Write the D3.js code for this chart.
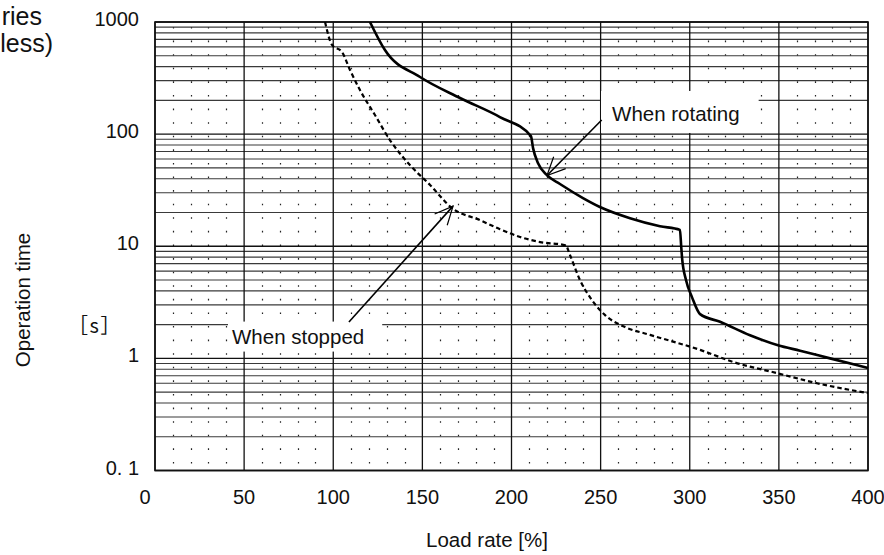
<!DOCTYPE html>
<html><head><meta charset="utf-8">
<script src="https://cdn.jsdelivr.net/npm/d3@7"></script>
<style>
html,body{margin:0;padding:0;background:#fff;}
svg{display:block;font-family:"Liberation Sans",Arial,sans-serif;}
</style></head>
<body><svg id="c" width="884" height="555"></svg>
<script>
// ---- data ----
const xTicks = [0, 50, 100, 150, 200, 250, 300, 350, 400];
const yTicks = [1000, 100, 10, 1, 0.1];
const yTickLabels = ["1000", "100", "10", "1", "0. 1"];
const xLabel = "Load rate [%]";
const yLabel = "Operation time";
const yUnit = "［s］";
const cornerText = ["ries", "less)"];
// When rotating (solid)
const rotX = [120.6, 129, 148.7, 171.1, 193.5, 210.9, 212.1, 214.9, 219.9, 227.2, 240.1, 249.6, 266.5, 283.3, 294.5, 295.2, 295.7, 297.9, 301.3, 305.8, 317, 333.8, 349.5, 361.9, 378.7, 400];
const rotY = [1000, 562, 323, 210, 142, 96, 75, 55, 43, 35.9, 26.9, 22.4, 17.8, 15.1, 14, 10, 7.85, 5, 3.5, 2.48, 2.12, 1.61, 1.31, 1.17, 1.0, 0.82];
// When stopped (dashed)
const stopX = [95.4, 99.3, 104.9, 109.4, 115, 123.4, 131.8, 143, 154.3, 166.6, 182.3, 193.5, 204.8, 216, 230.4, 232.8, 238.4, 245.2, 252.5, 263.7, 277.7, 305.8, 324.3, 349.5, 371.4, 400];
const stopY = [1000, 624, 540, 373, 247, 148, 88.6, 53, 35.2, 21.9, 17.1, 14.2, 12.1, 10.9, 10.2, 8.35, 5, 3.3, 2.43, 1.9, 1.62, 1.19, 0.93, 0.735, 0.6, 0.49];
// annotations: label anchor, arrow tail, arrow tip (data coords)
const annoText = ["When rotating", "When stopped"];
const annoLabel = [[256.4, 131], [43.2, 1.355]];
const annoTail = [[250.6, 133.6], [108.8, 2.11]];
const annoTip = [[219.9, 42.7], [167.2, 22.8]];

// ---- layout ----
const L = 155, R = 868, T = 22, B = 470.5;
const svg = d3.select("#c");
const x = d3.scaleLinear().domain([0, 400]).range([L, R]);
const y = d3.scaleLog().domain([0.1, 1000]).range([B, T]);

const g = svg.append("g");

// dotted vertical minor grid (every 10)
const minorX = d3.range(10, 400, 10).filter(v => v % 50 !== 0);
const period = (B - T) / 33;
g.selectAll("line.vd").data(minorX).join("line")
  .attr("x1", d => Math.round(x(d)) + 0.5).attr("x2", d => Math.round(x(d)) + 0.5)
  .attr("y1", T + 5).attr("y2", B)
  .attr("stroke", "#222").attr("stroke-width", 1.2)
  .attr("stroke-dasharray", `1.6,${period - 1.6}`);

// horizontal minor log grid
const minorY = [];
[0.1, 1, 10, 100].forEach(dec => { for (let k = 2; k <= 9; k++) minorY.push(dec * k); });
g.selectAll("line.hm").data(minorY).join("line")
  .attr("x1", L).attr("x2", R)
  .attr("y1", d => y(d)).attr("y2", d => y(d))
  .attr("stroke", "#3a3a3a").attr("stroke-width", 1.2);

// vertical major grid
g.selectAll("line.vM").data(xTicks).join("line")
  .attr("x1", d => x(d)).attr("x2", d => x(d))
  .attr("y1", T).attr("y2", B)
  .attr("stroke", "#111").attr("stroke-width", 1.3);

// horizontal decade lines
g.selectAll("line.hM").data(yTicks).join("line")
  .attr("x1", L).attr("x2", R)
  .attr("y1", d => y(d)).attr("y2", d => y(d))
  .attr("stroke", "#111").attr("stroke-width", 1.3);

// border
g.append("rect").attr("x", L).attr("y", T).attr("width", R - L).attr("height", B - T)
  .attr("fill", "none").attr("stroke", "#111").attr("stroke-width", 1.6);

// curves
const line = d3.line().x(d => x(d[0])).y(d => y(d[1])).curve(d3.curveMonotoneX);
g.append("path").datum(rotX.map((v, i) => [v, rotY[i]]))
  .attr("d", line).attr("fill", "none").attr("stroke", "#000").attr("stroke-width", 2.6)
  .attr("stroke-linejoin", "round");
g.append("path").datum(stopX.map((v, i) => [v, stopY[i]]))
  .attr("d", line).attr("fill", "none").attr("stroke", "#000").attr("stroke-width", 2.2)
  .attr("stroke-dasharray", "4.5,3");

// annotations
const pads = [[11, 15, 19, 12], [4, 7, 18, 8]];
annoText.forEach((t, i) => {
  const tx = svg.append("text").attr("x", x(annoLabel[i][0])).attr("y", y(annoLabel[i][1]))
    .attr("font-size", 20.5).attr("fill", "#111").text(t);
  const bb = tx.node().getBBox();
  const p = pads[i];
  svg.insert("rect", "text").attr("x", bb.x - p[0]).attr("y", y(annoLabel[i][1]) - 15 - p[1])
    .attr("width", bb.width + p[0] + p[2]).attr("height", 15 + p[1] + p[3]).attr("fill", "#fff");
  const x0 = x(annoTail[i][0]), y0 = y(annoTail[i][1]);
  const x1 = x(annoTip[i][0]), y1 = y(annoTip[i][1]);
  const ang = Math.atan2(y0 - y1, x0 - x1);
  const len = 20, sp = 25 * Math.PI / 180;
  svg.append("line").attr("x1", x0).attr("y1", y0).attr("x2", x1).attr("y2", y1)
    .attr("stroke", "#000").attr("stroke-width", 1.6);
  svg.append("path")
    .attr("d", `M${x1 + len * Math.cos(ang + sp)},${y1 + len * Math.sin(ang + sp)}L${x1},${y1}L${x1 + len * Math.cos(ang - sp)},${y1 + len * Math.sin(ang - sp)}`)
    .attr("fill", "none").attr("stroke", "#000").attr("stroke-width", 1.2);
});

// tick labels
svg.selectAll("text.yt").data(yTicks).join("text")
  .attr("x", 139).attr("y", d => y(d) + 4).attr("text-anchor", "end")
  .attr("font-size", 20).attr("fill", "#111").text((d, i) => yTickLabels[i]);
svg.selectAll("text.xt").data(xTicks).join("text")
  .attr("x", d => d === 0 ? x(d) - 10 : x(d)).attr("y", 504).attr("text-anchor", "middle")
  .attr("font-size", 20).attr("fill", "#111").text(d => d);

// axis titles
svg.append("text").attr("x", 487).attr("y", 547).attr("text-anchor", "middle")
  .attr("font-size", 20.5).attr("fill", "#111").text(xLabel);
svg.append("text").attr("transform", "translate(30,300) rotate(-90)").attr("text-anchor", "middle")
  .attr("font-size", 20.5).attr("fill", "#111").text(yLabel);
svg.append("text").attr("x", 95).attr("y", 333).attr("text-anchor", "middle")
  .attr("font-family", "'Noto Sans CJK JP'").attr("font-size", 20).attr("letter-spacing", 1.5)
  .attr("fill", "#111").text(yUnit);

// cropped corner text
svg.append("text").attr("x", 42).attr("y", 25).attr("text-anchor", "end")
  .attr("font-size", 25).attr("fill", "#111").text(cornerText[0]);
svg.append("text").attr("x", 53).attr("y", 52).attr("text-anchor", "end")
  .attr("font-size", 25).attr("fill", "#111").text(cornerText[1]);
</script></body></html>
